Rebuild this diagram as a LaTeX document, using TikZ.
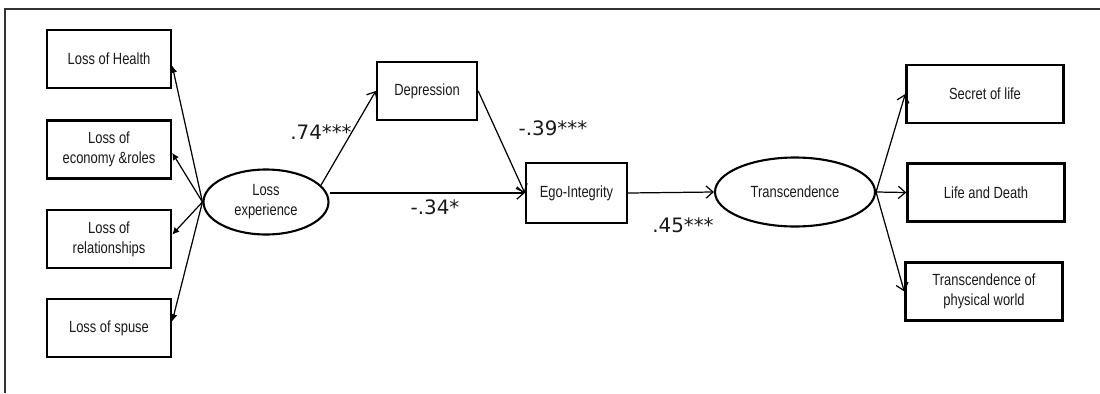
\documentclass[tikz,border=0pt]{standalone}
\usepackage{fontspec}
\setmainfont{Liberation Sans}
\newfontfamily\boxfont[FakeStretch=0.8]{Liberation Sans}
\newfontfamily\coeffont{DejaVu Sans}
\usetikzlibrary{shapes}
\usetikzlibrary{arrows.meta}
\tikzset{
    var/.style = {rectangle, draw=black, line width=1.4pt, minimum width=2.48cm, minimum height=1.16cm, align=center, inner sep=1pt, text=black!90, font=\boxfont\fontsize{9.2}{11.3}\selectfont},
    varw/.style = {var, minimum width=3.14cm},
    latent/.style = {ellipse, draw=black, line width=1.2pt, minimum width=2.5cm, minimum height=1.3cm, align=center, inner sep=0pt, text=black!90, font=\boxfont\fontsize{9.2}{11.3}\selectfont},
    coef/.style = {text=black!90, font=\coeffont\fontsize{11.3}{13}\selectfont},
    edgef/.style = {-{Latex[length=4pt,width=4pt]}, line width=0.7pt}, % to indicators
    edgeo/.style = {-{Straight Barb[length=4pt,width=7pt]}, line width=0.7pt},
    frame/.style = {line width=0.6pt, black!80}
}
\begin{document}
\begin{tikzpicture}[x=0.02cm, y=-0.02cm]
\useasboundingbox (0,0) rectangle (1100,393);
\draw[frame] (5,393) -- (5,9) -- (1100,9);
%
\node[var] at (109, 59.0) (health) {Loss of Health};
\node[var] at (109,149.5) (econ) {Loss of\\economy \&roles};
\node[var] at (109,239.0) (rel) {Loss of\\relationships};
\node[var] at (109,328.0) (spouse) {Loss of spuse};
\node[latent] at (266,202) (loss) {Loss\\experience};
\node[var, minimum width=2cm] at (427,91) (dep) {Depression};
\node[var, minimum width=2.02cm, minimum height=1.2cm] at (576.5,193) (ego) {Ego-Integrity};
\node[latent, minimum width=3.2cm, minimum height=1.38cm] at (795,192) (trans) {Transcendence};
\node[varw] at (985, 94.0) (secret) {Secret of life};
\node[varw] at (986,192.5) (life) {Life and Death};
\node[varw] at (984,291.5) (world) {Transcendence of\\physical world};
%
\node[coef] at (321,132) (c1) {.74***};
\node[coef] at (553,128) (c2) {-.39***};
\node[coef] at (435,207) (c3) {-.34*};
\node[coef] at (683,225) (c4) {.45***};
%
\draw[edgef] (loss.west) -- (health.-6);
\draw[edgef] (loss.west) -- (econ.-3);
\draw[edgef] (loss.west) -- (rel.4);
\draw[edgef] (loss.west) -- (spouse.6);
\draw[edgeo] (loss.17) -- (dep.west);
\draw[edgeo] (dep.east) -- (ego.west);
\draw[edgeo] (loss.east |- ego.west) -- (ego.west);
\draw[edgeo] (ego.east) -- (trans.west);
\draw[edgeo] (trans.east) -- (secret.west);
\draw[edgeo] (trans.east) -- (life.west);
\draw[edgeo] (trans.east) -- (world.west);
\end{tikzpicture}
\end{document}
